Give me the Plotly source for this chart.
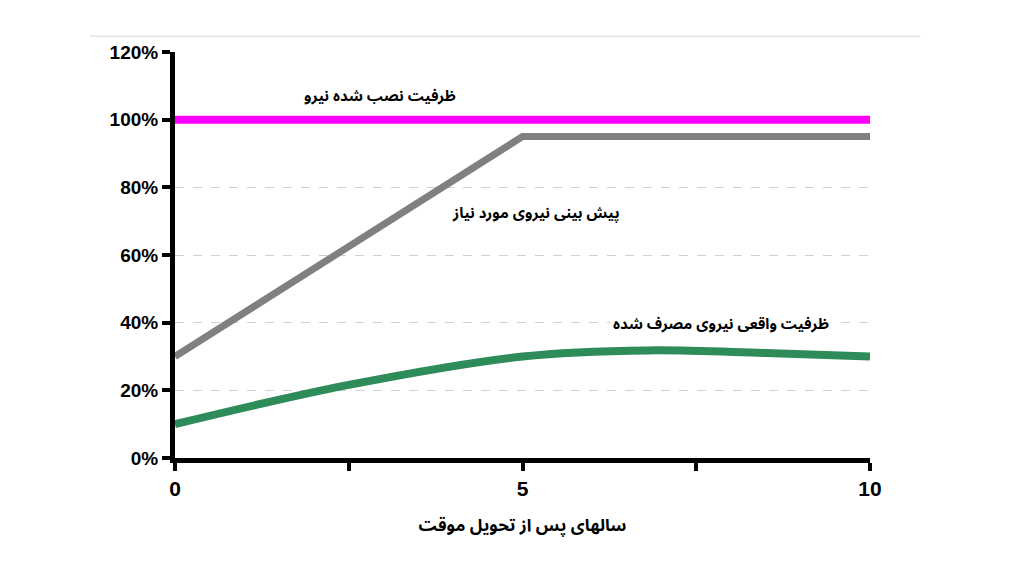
import plotly.graph_objects as go

# years after provisional acceptance
years_installed = [0, 10]
installed = [1.00, 1.00]

years_forecast = [0, 5, 10]
forecast = [0.30, 0.95, 0.95]

years_actual = [0, 2.5, 5, 6.8, 8.5, 10]
actual = [0.10, 0.216, 0.30, 0.318, 0.31, 0.30]

x_ticks = [0, 2.5, 5, 7.5, 10]
x_labels = ["0", "", "5", "", "10"]
y_ticks = [0, 0.2, 0.4, 0.6, 0.8, 1.0, 1.2]

fa_font = "Noto Sans Arabic, DejaVu Sans"
num_font = "Liberation Sans"

fig = go.Figure()
fig.add_trace(go.Scatter(x=years_forecast, y=forecast, mode="lines",
                         line=dict(color="#808080", width=7), cliponaxis=False))
fig.add_trace(go.Scatter(x=years_actual, y=actual, mode="lines",
                         line=dict(color="#2E8B5A", width=8, shape="spline", smoothing=1.0),
                         cliponaxis=False))
fig.add_trace(go.Scatter(x=years_installed, y=installed, mode="lines",
                         line=dict(color="#FF00FF", width=8), cliponaxis=False))

# page body has an 8px margin, so margins are offset by that
fig.update_layout(
    width=1024, height=576,
    margin=dict(l=167, r=162, t=44, b=126),
    paper_bgcolor="white", plot_bgcolor="white",
    showlegend=False,
    font=dict(family=num_font, color="black"),
)
fig.update_xaxes(
    range=[0, 10], tickvals=x_ticks, ticktext=x_labels,
    showline=True, linecolor="black", linewidth=5,
    ticks="outside", ticklen=8, tickwidth=4, tickcolor="black",
    showgrid=False, zeroline=False,
    tickfont=dict(family=num_font, size=21, color="black", weight="bold"),
    title=dict(text="سالهای پس از تحویل موقت",
               font=dict(family=fa_font, size=17, color="black", weight="bold"),
               standoff=21),
)
fig.update_yaxes(
    range=[0, 1.2], tickvals=y_ticks, tickformat=".0%",
    showline=True, linecolor="black", linewidth=5,
    ticks="outside", ticklen=8, tickwidth=4, tickcolor="black",
    showgrid=True, gridcolor="#d0d0d0", griddash="dash", gridwidth=1,
    zeroline=False,
    tickfont=dict(family=num_font, size=19, color="black", weight="bold"),
)

# thin border line at the top of the picture
fig.add_shape(type="line", xref="paper", yref="paper",
              x0=-0.122, x1=1.072, y0=1.039, y1=1.039,
              line=dict(color="#e6e6e6", width=1.5))

labels = [
    ("ظرفیت نصب شده نیرو", 2.95, 1.07, None),
    ("پیش بینی نیروی مورد نیاز", 5.2, 0.725, None),
    ("ظرفیت واقعی نیروی مصرف شده", 7.85, 0.395, "white"),
]
for text, x, y, bg in labels:
    fig.add_annotation(x=x, y=y, text=text, showarrow=False,
                       font=dict(family=fa_font, size=15, color="black", weight="bold"),
                       bgcolor=bg, borderpad=2)

fig.write_html("out.html")
